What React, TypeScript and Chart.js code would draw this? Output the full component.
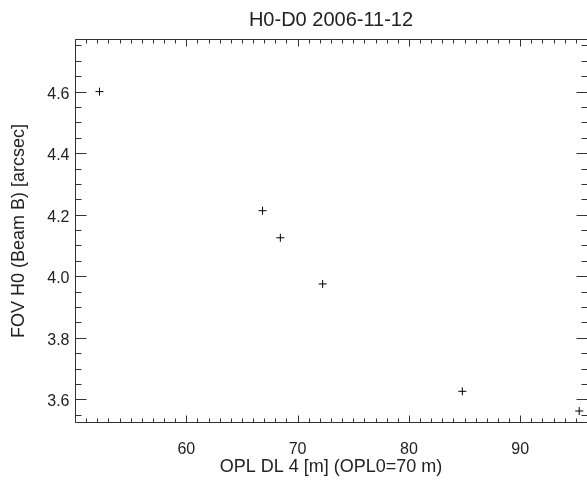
import { useEffect, useRef } from "react";
import { Chart, registerables } from "chart.js";

Chart.register(...registerables);

const chartTitle = "H0-D0 2006-11-12";
const xAxisTitle = "OPL DL 4 [m] (OPL0=70 m)";
const yAxisTitle = "FOV H0 (Beam B) [arcsec]";

const oplValues = [52.2, 66.85, 68.45, 72.25, 84.8, 95.3];
const fovValues = [4.6, 4.213, 4.125, 3.975, 3.626, 3.562];

const xTickValues = [60, 70, 80, 90];
const yTickValues = [3.6, 3.8, 4.0, 4.2, 4.4, 4.6];
const xRange = [50, 96];
const yRange = [3.523, 4.771];
const xMajorStep = 10;
const xMinorStep = 1;
const yMajorStep = 0.2;
const yMinorStep = 0.05;

function stepsIn(min: number, max: number, step: number): number[] {
  const out: number[] = [];
  const start = Math.ceil(min / step - 1e-9);
  const end = Math.floor(max / step + 1e-9);
  for (let i = start; i <= end; i++) out.push(i * step);
  return out;
}

function isMajor(v: number, major: number): boolean {
  const r = v / major;
  return Math.abs(r - Math.round(r)) < 1e-6;
}

const framePlugin = {
  id: "idlFrame",
  afterDraw(chart: any) {
    const { ctx, chartArea: a, scales } = chart;
    const xs = scales.x;
    const ys = scales.y;
    const L = Math.round(a.left) + 0.5;
    const R = Math.round(a.right) + 0.5;
    const T = Math.round(a.top) + 0.5;
    const B = Math.round(a.bottom) - 0.5;
    ctx.save();
    ctx.strokeStyle = "#333";
    ctx.lineWidth = 1;
    ctx.beginPath();
    ctx.moveTo(R, T);
    ctx.lineTo(L, T);
    ctx.lineTo(L, B);
    ctx.lineTo(R, B);
    ctx.stroke();

    ctx.beginPath();
    for (const v of stepsIn(xRange[0], xRange[1], xMinorStep)) {
      const px = Math.round(xs.getPixelForValue(v)) + 0.5;
      const len = isMajor(v, xMajorStep) ? 7 : 4;
      ctx.moveTo(px, B);
      ctx.lineTo(px, B - len);
      ctx.moveTo(px, T);
      ctx.lineTo(px, T + len);
    }
    for (const v of stepsIn(yRange[0], yRange[1], yMinorStep)) {
      const py = Math.round(ys.getPixelForValue(v)) + 0.5;
      const len = isMajor(v, yMajorStep) ? 11 : 6;
      ctx.moveTo(L, py);
      ctx.lineTo(L + len, py);
      ctx.moveTo(R, py);
      ctx.lineTo(R - len, py);
    }
    ctx.stroke();
    ctx.restore();
  },
};

export default function App() {
  const canvasRef = useRef<HTMLCanvasElement | null>(null);

  useEffect(() => {
    const canvas = canvasRef.current;
    if (!canvas) return;
    Chart.defaults.font.family = "'Liberation Sans', Arial, Helvetica, sans-serif";
    Chart.defaults.color = "#222";
    const chart = new Chart(canvas, {
      type: "scatter",
      data: {
        datasets: [
          {
            data: oplValues.map((x, i) => ({ x, y: fovValues[i] })),
            pointStyle: "cross",
            pointRadius: 4,
            pointBorderWidth: 1,
            pointBorderColor: "#000",
            pointBackgroundColor: "#000",
            showLine: false,
          },
        ],
      },
      options: {
        responsive: false,
        animation: false,
        devicePixelRatio: 1,
        layout: { padding: 0, autoPadding: false },
        plugins: {
          legend: { display: false },
          tooltip: { enabled: false },
          title: {
            display: true,
            text: chartTitle,
            fullSize: false,
            color: "#222",
            font: { size: 20, weight: "normal" },
            padding: { top: 8.5, bottom: 6.5 },
          },
        },
        scales: {
          x: {
            type: "linear",
            position: "bottom",
            min: xRange[0],
            max: xRange[1],
            grid: { display: false, drawTicks: false, tickLength: 0 },
            border: { display: false },
            afterBuildTicks: (s: any) => {
              s.ticks = xTickValues.map((v) => ({ value: v }));
            },
            afterFit: (s: any) => {
              s.height = 65;
              s.paddingLeft = 0;
              s.paddingRight = 0;
            },
            ticks: {
              font: { size: 16 },
              color: "#222",
              padding: 17,
              maxRotation: 0,
              autoSkip: false,
            },
            title: {
              display: true,
              text: xAxisTitle,
              color: "#222",
              font: { size: 18 },
              padding: { top: 0, bottom: 10.5 },
            },
          },
          y: {
            type: "linear",
            position: "left",
            min: yRange[0],
            max: yRange[1],
            grid: { display: false, drawTicks: false, tickLength: 0 },
            border: { display: false },
            afterBuildTicks: (s: any) => {
              s.ticks = yTickValues.map((v) => ({ value: v }));
            },
            afterFit: (s: any) => {
              s.width = 75;
              s.paddingTop = 0;
              s.paddingBottom = 0;
            },
            ticks: {
              font: { size: 16 },
              color: "#222",
              padding: 5.5,
              labelOffset: 2.5,
              autoSkip: false,
              callback: (v: any) => Number(v).toFixed(1),
            },
            title: {
              display: true,
              text: yAxisTitle,
              color: "#222",
              font: { size: 18 },
              padding: { top: 8, bottom: 0 },
            },
          },
        },
      },
      plugins: [framePlugin],
    });
    return () => chart.destroy();
  }, []);

  return (
    <div
      style={{
        position: "fixed",
        left: 0,
        top: 0,
        width: 587,
        height: 488,
        background: "#fff",
      }}
    >
      <canvas ref={canvasRef} width={587} height={488} style={{ display: "block" }} />
    </div>
  );
}
